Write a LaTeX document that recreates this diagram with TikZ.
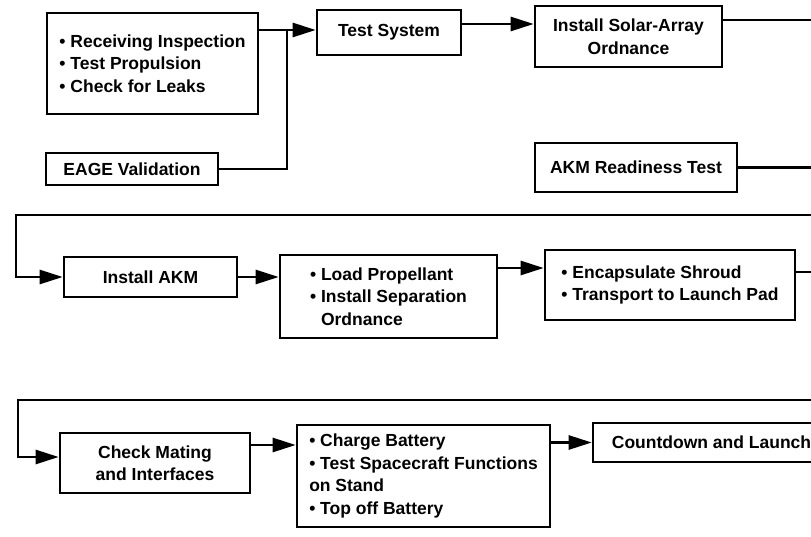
\documentclass[tikz,border=0pt]{standalone}
\usepackage{fontspec}
\setmainfont{Liberation Sans}
\usetikzlibrary{arrows.meta}
\begin{document}
\begin{tikzpicture}[x=1pt,y=-1pt,
  box/.style={draw, line width=2.6pt, inner sep=0pt, font=\bfseries\fontsize{17.5}{22.5}\selectfont},
  arr/.style={line width=2.6pt, line join=miter, -{Triangle[length=23pt,width=14pt]}},
  ln/.style={line width=2.6pt, line join=miter}]
\clip (0,0) rectangle (811,537);
\fill[white] (0,0) rectangle (811,537);
% row 1
\node[box, minimum width=211pt, minimum height=101pt, align=left] (A) at (152.5,63.5)
  {\textbullet\ Receiving Inspection\\\textbullet\ Test Propulsion\\\textbullet\ Check for Leaks};
\node[box, minimum width=172pt, minimum height=32pt] (E) at (132,169) {EAGE Validation};
\node[box, minimum width=144pt, minimum height=45pt] (TS) at (389,32.5) {Test System};
\node[box, minimum width=187pt, minimum height=61pt, align=center] (SA) at (628.5,36.5)
  {Install Solar-Array\\Ordnance};
\node[box, minimum width=202pt, minimum height=49pt] (AR) at (636,167.5) {AKM Readiness Test};
% row 2
\node[box, minimum width=173pt, minimum height=40pt] (IA) at (150.5,277) {Install AKM};
\node[box, minimum width=217pt, minimum height=83pt, align=left] (LP) at (388.5,296.5)
  {\textbullet\ Load Propellant\\\textbullet\ Install Separation\\\phantom{\textbullet\ }Ordnance};
\node[box, minimum width=250pt, minimum height=70pt, align=left] (EN) at (670,285)
  {\textbullet\ Encapsulate Shroud\\\textbullet\ Transport to Launch Pad};
% row 3
\node[box, minimum width=190pt, minimum height=60pt, align=center] (CM) at (155,463)
  {Check Mating\\and Interfaces};
\node[box, minimum width=253pt, minimum height=102pt, align=left] (CH) at (423.5,476)
  {\textbullet\ Charge Battery\\\textbullet\ Test Spacecraft Functions\\on Stand\\\textbullet\ Top off Battery};
\node[box, minimum width=237pt, minimum height=39pt] (CD) at (711.5,442.5) {Countdown and Launch};
% helper coordinates
\coordinate (y30) at (0,30);
\coordinate (J) at (287,30);
\coordinate (y24) at (0,24);
\coordinate (o1) at (815,20);
\coordinate (o2) at (815,167.5);
\coordinate (L1a) at (815,215);
\coordinate (L1b) at (16,215);
\coordinate (y268) at (0,268);
\coordinate (o3) at (815,272);
\coordinate (L2a) at (815,400);
\coordinate (L2b) at (18,400);
\coordinate (y457) at (0,457);
\coordinate (y445) at (0,445);
% connectors
\draw[arr] (A.east |- y30) -- (TS.west |- y30);
\draw[ln] (E.east) -| (J);
\draw[arr] (TS.east |- y24) -- (SA.west |- y24);
\draw[ln] (SA.east |- o1) -- (o1);
\draw[ln] (AR.east) -- (o2);
\draw[arr] (L1a) -- (L1b) |- (IA.west);
\draw[arr] (IA.east) -- (IA.east -| LP.west);
\draw[arr] (LP.east |- y268) -- (EN.west |- y268);
\draw[ln] (EN.east |- o3) -- (o3);
\draw[arr] (L2a) -- (L2b) |- (CM.west |- y457);
\draw[arr] (CM.east |- y445) -- (CH.west |- y445);
\draw[arr] (CH.east |- CD.west) -- (CD.west);
\end{tikzpicture}
\end{document}
